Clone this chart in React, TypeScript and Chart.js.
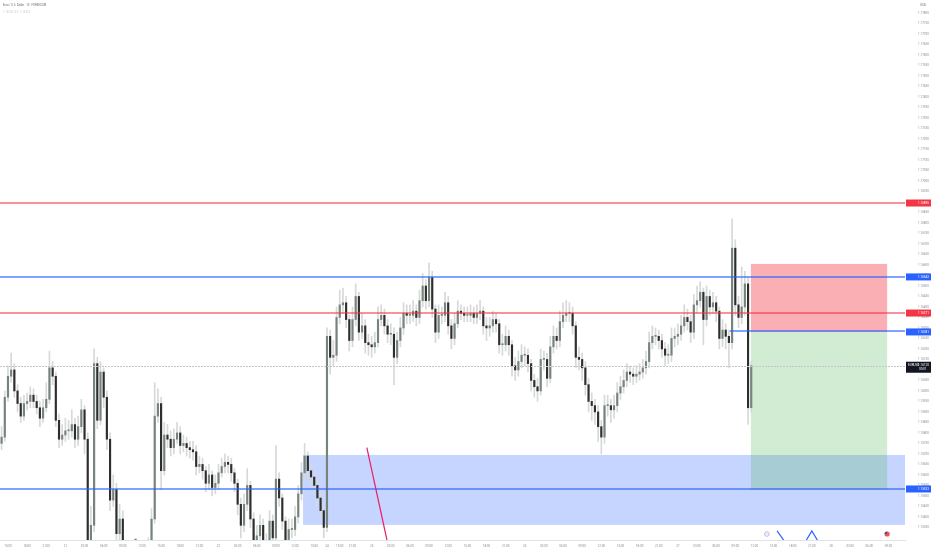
import React, { useEffect, useRef } from 'react';
import { Chart, registerables } from 'chart.js';

Chart.register(...registerables);

// EUR/USD, 30-minute candles (index 0 = 20th 14:00 NY time)
const FIRST_OPEN = 1.1575;

const closes = [
  1.1578, 1.1597, 1.1607, 1.1610, 1.1600, 1.1594, 1.1588, 1.1594, 1.1595, 1.1598,
  1.1595, 1.1592, 1.1587, 1.1592, 1.1596, 1.1611, 1.1607, 1.1586, 1.1577, 1.1579,
  1.1581, 1.1581, 1.1584, 1.1577, 1.1583, 1.1591, 1.1577, 1.1525, 1.1536, 1.1613,
  1.1586, 1.1609, 1.1597, 1.1577, 1.1548, 1.1553, 1.1532, 1.1539, 1.1527, 1.1522,
  1.1520, 1.1519, 1.1519, 1.1520, 1.1521, 1.1522, 1.1525, 1.1539, 1.1588, 1.1594,
  1.1562, 1.1579, 1.1577, 1.1573, 1.1577, 1.1580, 1.1574, 1.1575, 1.1573, 1.1572,
  1.1571, 1.1564, 1.1565, 1.1562, 1.1556, 1.1560, 1.1554, 1.1556, 1.1561, 1.1564,
  1.1566, 1.1565, 1.1561, 1.1556, 1.1546, 1.1536, 1.1546, 1.1555, 1.1539, 1.1529,
  1.1531, 1.1536, 1.1525, 1.1527, 1.1538, 1.1530, 1.1558, 1.1549, 1.1538, 1.1527,
  1.1534, 1.1534, 1.1540, 1.1551, 1.1561, 1.1569, 1.1562, 1.1559, 1.1555, 1.1549,
  1.1543, 1.1535, 1.1626, 1.1616, 1.1617, 1.1635, 1.1641, 1.1642, 1.1634, 1.1624,
  1.1634, 1.1645, 1.1628, 1.1631, 1.1623, 1.1622, 1.1621, 1.1623, 1.1634, 1.1636,
  1.1631, 1.1627, 1.1627, 1.1616, 1.1624, 1.1630, 1.1637, 1.1636, 1.1636, 1.1638,
  1.1635, 1.1643, 1.1650, 1.1643, 1.1654, 1.1639, 1.1628, 1.1636, 1.1636, 1.1642,
  1.1631, 1.1625, 1.1632, 1.1638, 1.1637, 1.1636, 1.1636, 1.1637, 1.1635, 1.1637,
  1.1638, 1.1631, 1.1630, 1.1631, 1.1634, 1.1632, 1.1622, 1.1622, 1.1626, 1.1622,
  1.1612, 1.1610, 1.1614, 1.1617, 1.1617, 1.1613, 1.1605, 1.1602, 1.1600, 1.1615,
  1.1615, 1.1606, 1.1621, 1.1626, 1.1624, 1.1633, 1.1636, 1.1637, 1.1637, 1.1631,
  1.1616, 1.1615, 1.1611, 1.1603, 1.1595, 1.1593, 1.1590, 1.1583, 1.1578, 1.1593,
  1.1593, 1.1591, 1.1593, 1.1599, 1.1602, 1.1605, 1.1609, 1.1608, 1.1607, 1.1608,
  1.1609, 1.1611, 1.1614, 1.1623, 1.1626, 1.1626, 1.1624, 1.1620, 1.1617, 1.1617,
  1.1625, 1.1626, 1.1627, 1.1631, 1.1635, 1.1633, 1.1628, 1.1641, 1.1643, 1.1647,
  1.1634, 1.1645, 1.1640, 1.1642, 1.1638, 1.1625, 1.1629, 1.1626, 1.1623, 1.1668,
  1.1641, 1.1635, 1.1640, 1.1651, 1.1592, 1.1612,
];

const highs = [
  1.1583, 1.1600, 1.1612, 1.1618, 1.1613, 1.1603, 1.1597, 1.1598, 1.1599, 1.1602,
  1.1601, 1.1598, 1.1595, 1.1596, 1.1604, 1.1619, 1.1614, 1.1609, 1.1589, 1.1584,
  1.1587, 1.1586, 1.1591, 1.1587, 1.1588, 1.1596, 1.1593, 1.1580, 1.1545, 1.1620,
  1.1616, 1.1614, 1.1611, 1.1600, 1.1580, 1.1560, 1.1556, 1.1546, 1.1543, 1.1529,
  1.1525, 1.1524, 1.1523, 1.1524, 1.1525, 1.1526, 1.1530, 1.1544, 1.1604, 1.1601,
  1.1597, 1.1585, 1.1584, 1.1581, 1.1582, 1.1585, 1.1583, 1.1579, 1.1578, 1.1576,
  1.1576, 1.1574, 1.1569, 1.1568, 1.1564, 1.1565, 1.1562, 1.1560, 1.1565, 1.1568,
  1.1570, 1.1569, 1.1568, 1.1563, 1.1558, 1.1549, 1.1551, 1.1563, 1.1557, 1.1542,
  1.1536, 1.1541, 1.1539, 1.1532, 1.1543, 1.1541, 1.1574, 1.1561, 1.1551, 1.1540,
  1.1539, 1.1539, 1.1545, 1.1555, 1.1566, 1.1575, 1.1571, 1.1565, 1.1562, 1.1558,
  1.1552, 1.1546, 1.1630, 1.1629, 1.1624, 1.1640, 1.1648, 1.1649, 1.1645, 1.1636,
  1.1640, 1.1651, 1.1647, 1.1637, 1.1634, 1.1627, 1.1626, 1.1628, 1.1640, 1.1641,
  1.1639, 1.1634, 1.1632, 1.1630, 1.1628, 1.1635, 1.1642, 1.1641, 1.1641, 1.1643,
  1.1641, 1.1648, 1.1656, 1.1653, 1.1661, 1.1657, 1.1641, 1.1641, 1.1640, 1.1647,
  1.1645, 1.1634, 1.1637, 1.1643, 1.1641, 1.1640, 1.1640, 1.1641, 1.1640, 1.1641,
  1.1643, 1.1640, 1.1635, 1.1635, 1.1638, 1.1637, 1.1634, 1.1627, 1.1631, 1.1629,
  1.1624, 1.1616, 1.1619, 1.1622, 1.1621, 1.1620, 1.1615, 1.1608, 1.1606, 1.1620,
  1.1619, 1.1618, 1.1626, 1.1631, 1.1630, 1.1638, 1.1642, 1.1643, 1.1642, 1.1640,
  1.1633, 1.1621, 1.1618, 1.1614, 1.1606, 1.1599, 1.1596, 1.1593, 1.1586, 1.1598,
  1.1598, 1.1596, 1.1598, 1.1604, 1.1607, 1.1610, 1.1613, 1.1612, 1.1611, 1.1612,
  1.1613, 1.1615, 1.1619, 1.1628, 1.1631, 1.1630, 1.1629, 1.1627, 1.1623, 1.1622,
  1.1630, 1.1630, 1.1632, 1.1636, 1.1641, 1.1639, 1.1636, 1.1646, 1.1650, 1.1652,
  1.1649, 1.1650, 1.1648, 1.1647, 1.1645, 1.1640, 1.1634, 1.1632, 1.1629, 1.1682,
  1.1672, 1.1645, 1.1659, 1.1657, 1.1654, 1.1614,
];

const lows = [
  1.1572, 1.1576, 1.1595, 1.1604, 1.1597, 1.1590, 1.1585, 1.1586, 1.1591, 1.1592,
  1.1592, 1.1589, 1.1583, 1.1585, 1.1590, 1.1594, 1.1603, 1.1583, 1.1573, 1.1574,
  1.1576, 1.1577, 1.1578, 1.1573, 1.1574, 1.1580, 1.1570, 1.1520, 1.1520, 1.1533,
  1.1582, 1.1584, 1.1592, 1.1572, 1.1543, 1.1545, 1.1527, 1.1528, 1.1520, 1.1518,
  1.1516, 1.1515, 1.1515, 1.1516, 1.1517, 1.1518, 1.1519, 1.1523, 1.1537, 1.1585,
  1.1553, 1.1560, 1.1573, 1.1569, 1.1570, 1.1575, 1.1570, 1.1571, 1.1569, 1.1568,
  1.1567, 1.1560, 1.1561, 1.1558, 1.1552, 1.1553, 1.1550, 1.1551, 1.1553, 1.1559,
  1.1561, 1.1561, 1.1557, 1.1552, 1.1541, 1.1530, 1.1533, 1.1543, 1.1535, 1.1524,
  1.1525, 1.1527, 1.1520, 1.1521, 1.1524, 1.1526, 1.1528, 1.1545, 1.1534, 1.1522,
  1.1523, 1.1530, 1.1531, 1.1537, 1.1548, 1.1558, 1.1558, 1.1555, 1.1551, 1.1545,
  1.1539, 1.1530, 1.1533, 1.1608, 1.1612, 1.1614, 1.1632, 1.1637, 1.1630, 1.1619,
  1.1621, 1.1631, 1.1624, 1.1625, 1.1618, 1.1617, 1.1616, 1.1618, 1.1621, 1.1631,
  1.1627, 1.1623, 1.1622, 1.1603, 1.1613, 1.1621, 1.1627, 1.1632, 1.1632, 1.1633,
  1.1631, 1.1632, 1.1640, 1.1639, 1.1640, 1.1635, 1.1623, 1.1625, 1.1632, 1.1633,
  1.1627, 1.1620, 1.1622, 1.1630, 1.1634, 1.1633, 1.1633, 1.1633, 1.1632, 1.1632,
  1.1634, 1.1627, 1.1624, 1.1626, 1.1628, 1.1628, 1.1618, 1.1617, 1.1619, 1.1617,
  1.1607, 1.1605, 1.1607, 1.1611, 1.1612, 1.1609, 1.1600, 1.1597, 1.1595, 1.1598,
  1.1610, 1.1602, 1.1604, 1.1618, 1.1620, 1.1621, 1.1630, 1.1633, 1.1633, 1.1627,
  1.1611, 1.1610, 1.1605, 1.1598, 1.1590, 1.1586, 1.1584, 1.1576, 1.1570, 1.1575,
  1.1588, 1.1585, 1.1587, 1.1590, 1.1596, 1.1599, 1.1602, 1.1604, 1.1603, 1.1604,
  1.1605, 1.1606, 1.1608, 1.1611, 1.1620, 1.1622, 1.1620, 1.1616, 1.1612, 1.1613,
  1.1614, 1.1621, 1.1622, 1.1624, 1.1628, 1.1629, 1.1623, 1.1625, 1.1637, 1.1640,
  1.1622, 1.1631, 1.1636, 1.1637, 1.1633, 1.1620, 1.1621, 1.1620, 1.1611, 1.1620,
  1.1636, 1.1630, 1.1632, 1.1636, 1.1584, 1.1590,
];

// time axis (candle index -> label)
const timeTickIdx = [
  2, 8, 14, 20, 26, 32, 38, 44, 50, 56, 62, 68, 74, 80, 86, 92, 98,
  102, 106, 110,
  116, 122, 128, 134, 140, 146, 152, 158,
  164, 170, 176, 182, 188, 194, 200, 206,
  212, 218, 224, 230, 236, 242, 248, 254,
  260, 266, 272, 278,
];
const timeTickLabels = [
  '15:00', '18:00', '21:00', '21', '03:00', '06:00', '09:00', '12:00', '15:00', '18:00', '21:00', '22', '03:00', '06:00', '09:00', '12:00', '15:00',
  '24', '19:00', '21:00',
  '25', '03:00', '06:00', '09:00', '12:00', '15:00', '18:00', '21:00',
  '26', '03:00', '06:00', '09:00', '12:00', '15:00', '18:00', '21:00',
  '27', '03:00', '06:00', '09:00', '12:00', '15:00', '18:00', '21:00',
  '28', '03:00', '06:00', '09:00',
];

// price scale
const PRICE_MIN = 1.1529;
const PRICE_MAX = 1.17862;
const PRICE_TICK_LOW = 1.1535;
const PRICE_TICK_HIGH = 1.178;
const PRICE_STEP = 0.0005;

// drawings
const redLevels = [1.16895, 1.16371];
const blueLevels = [1.16543, 1.15533];
const demandZone = [1.15362, 1.15695];
const ZONE_START = 94.5;
const ENTRY = 1.16281;
const STOP = 1.16605;
const TARGET = 1.15529;
const ENTRY_LINE_START = 228.3;
const BOX_START = 234.9;
const BOX_END = 277.6;
const pinkLine = [[114.5, 1.1573], [120.8, 1.1529]];
const blueStrokeA = [[243.1, 1.15333], [245.6, 1.1528]];
const blueStrokeB = [[251.9, 1.1528], [254.0, 1.15333], [256.1, 1.1528]];
const eventIdx = [239.9, 277.6];

const X_MIN = -0.5;
const X_MAX = 283.2;

const UP = '#77847b';
const DOWN = '#2e2e2e';
const WICK = '#d6d9d7';
const RED = '#f23645';
const BLUE = '#2962ff';
const RED_LINE = 'rgba(242,54,69,0.55)';
const BLUE_LINE = 'rgba(41,98,255,0.6)';

const overlay = {
  id: 'overlay',
  beforeDatasetsDraw(chart: any) {
    const { ctx, chartArea: a, scales } = chart;
    const x = scales.x;
    const y = scales.y;
    ctx.save();
    ctx.beginPath();
    ctx.rect(a.left, a.top, a.right - a.left, a.bottom - a.top);
    ctx.clip();
    // demand zone
    const zx = x.getPixelForValue(ZONE_START);
    const zTop = y.getPixelForValue(demandZone[1]);
    const zBot = y.getPixelForValue(demandZone[0]);
    ctx.fillStyle = 'rgba(41,98,255,0.27)';
    ctx.fillRect(zx, zTop, a.right - zx, zBot - zTop);
    // short position box
    const bx0 = x.getPixelForValue(BOX_START);
    const bx1 = x.getPixelForValue(BOX_END);
    const yStop = y.getPixelForValue(STOP);
    const yEntry = y.getPixelForValue(ENTRY);
    const yTarget = y.getPixelForValue(TARGET);
    ctx.fillStyle = 'rgba(242,54,69,0.4)';
    ctx.fillRect(bx0, yStop, bx1 - bx0, yEntry - yStop);
    ctx.fillStyle = 'rgba(76,175,80,0.25)';
    ctx.fillRect(bx0, yEntry, bx1 - bx0, yTarget - yEntry);
    ctx.restore();
  },
  afterDatasetsDraw(chart: any) {
    const { ctx, chartArea: a, scales } = chart;
    const x = scales.x;
    const y = scales.y;
    ctx.save();
    ctx.beginPath();
    ctx.rect(a.left, a.top, a.right - a.left, a.bottom - a.top);
    ctx.clip();
    // last price line (dotted)
    const ly = Math.round(y.getPixelForValue(closes[closes.length - 1]));
    ctx.fillStyle = '#c2c5cb';
    for (let px = a.left; px < a.right; px += 3) ctx.fillRect(px, ly, 2, 1);
    // horizontal levels, two device rows so the hue survives downsampling
    const hline = (p: number, color: string, from: number) => {
      const py = 2 * Math.floor(y.getPixelForValue(p) / 2);
      ctx.fillStyle = color;
      ctx.fillRect(from, py, a.right - from, 2);
    };
    redLevels.forEach((p) => hline(p, RED_LINE, a.left));
    blueLevels.forEach((p) => hline(p, BLUE_LINE, a.left));
    hline(ENTRY, BLUE_LINE, x.getPixelForValue(ENTRY_LINE_START));
    const poly = (pts: number[][], color: string) => {
      ctx.strokeStyle = color;
      ctx.lineWidth = 1.2;
      ctx.beginPath();
      pts.forEach(([i, p], k) => {
        const px = x.getPixelForValue(i);
        const py = y.getPixelForValue(p);
        if (k === 0) ctx.moveTo(px, py);
        else ctx.lineTo(px, py);
      });
      ctx.stroke();
    };
    poly(pinkLine, '#e91e63');
    poly(blueStrokeA, BLUE);
    poly(blueStrokeB, BLUE);
    // economic events
    const ey = a.bottom - 6;
    const e0 = x.getPixelForValue(eventIdx[0]);
    ctx.strokeStyle = '#b39ddb';
    ctx.lineWidth = 0.8;
    ctx.beginPath();
    ctx.arc(e0, ey, 2.3, 0, Math.PI * 2);
    ctx.stroke();
    ctx.fillStyle = '#f3e5f5';
    ctx.beginPath();
    ctx.arc(e0, ey, 1.4, 0, Math.PI * 2);
    ctx.fill();
    const e1 = x.getPixelForValue(eventIdx[1]);
    ctx.fillStyle = '#ef5350';
    ctx.beginPath();
    ctx.arc(e1, ey, 2.6, 0, Math.PI * 2);
    ctx.fill();
    ctx.fillStyle = '#3f51b5';
    ctx.beginPath();
    ctx.moveTo(e1, ey);
    ctx.arc(e1, ey, 2.6, Math.PI, Math.PI * 1.5);
    ctx.closePath();
    ctx.fill();
    ctx.restore();
  },
  afterDraw(chart: any) {
    const { ctx, chartArea: a, scales, width } = chart;
    const y = scales.y;
    ctx.save();
    ctx.textBaseline = 'middle';
    ctx.textAlign = 'left';
    ctx.font = '3px Roboto, sans-serif';
    const badge = (p: number, bg: string, text: string) => {
      const py = y.getPixelForValue(p);
      ctx.fillStyle = bg;
      ctx.fillRect(a.right + 1, py - 3.5, width - a.right - 2, 7);
      ctx.fillStyle = '#ffffff';
      ctx.fillText(text, a.right + 13, py);
    };
    redLevels.forEach((p) => badge(p, RED, p.toFixed(5)));
    blueLevels.forEach((p) => badge(p, BLUE, p.toFixed(5)));
    badge(ENTRY, BLUE, ENTRY.toFixed(5));
    // last price badge with countdown
    const last = closes[closes.length - 1];
    const ly = y.getPixelForValue(last);
    ctx.fillStyle = '#131722';
    ctx.fillRect(a.right + 1, ly - 4, width - a.right - 2, 11);
    ctx.fillStyle = '#ffffff';
    ctx.fillText('EURUSD', a.right + 3, ly - 0.5);
    ctx.fillText(last.toFixed(5), a.right + 13, ly - 0.5);
    ctx.fillText('00:01', a.right + 14, ly + 3.5);
    // header texts
    ctx.fillStyle = '#6a6d78';
    ctx.font = '2.8px Roboto, sans-serif';
    ctx.fillText('Euro / U.S. Dollar · 15 · FOREXCOM', 3, 5.5);
    ctx.fillStyle = '#c4c6cc';
    ctx.fillText('1.16120  0.3  1.16123', 3, 12);
    ctx.fillStyle = '#6a6d78';
    ctx.font = '3px Roboto, sans-serif';
    ctx.fillText('USD', a.right + 15, 5.5);
    ctx.restore();
  },
};

export default function App() {
  const canvasRef = useRef<HTMLCanvasElement>(null);
  const chartRef = useRef<Chart | null>(null);

  useEffect(() => {
    document.body.style.margin = '0';
    if (!canvasRef.current) return;
    if (chartRef.current) chartRef.current.destroy();

    const opens = closes.map((_, i) => (i === 0 ? FIRST_OPEN : closes[i - 1]));

    chartRef.current = new Chart(canvasRef.current, {
      type: 'bar',
      data: {
        datasets: [
          {
            label: 'wicks',
            data: closes.map((_, i) => ({ x: i, y: [lows[i], highs[i]] })) as any,
            backgroundColor: WICK,
            barThickness: 1,
            grouped: false,
            order: 2,
          },
          {
            label: 'bodies',
            data: closes.map((c, i) => ({ x: i, y: [opens[i], c] })) as any,
            backgroundColor: (ctx: any) => (closes[ctx.dataIndex] >= opens[ctx.dataIndex] ? UP : DOWN),
            barThickness: 1.5,
            minBarLength: 1,
            grouped: false,
            order: 1,
          },
        ],
      },
      options: {
        responsive: false,
        animation: false,
        layout: { padding: 0 },
        plugins: { legend: { display: false }, tooltip: { enabled: false }, title: { display: false } },
        scales: {
          x: {
            type: 'linear',
            min: X_MIN,
            max: X_MAX,
            offset: false,
            grid: { display: false, drawTicks: false },
            border: { display: true, color: '#e0e3eb' },
            afterBuildTicks: (scale: any) => {
              scale.ticks = timeTickIdx.map((v) => ({ value: v }));
            },
            afterFit: (scale: any) => {
              scale.height = 10;
              scale.paddingLeft = 0;
              scale.paddingRight = 0;
            },
            ticks: {
              autoSkip: false,
              maxRotation: 0,
              padding: 4,
              color: '#8a8d95',
              font: { size: 3, family: 'Roboto' },
              callback: (_v: any, i: number) => timeTickLabels[i],
            },
          },
          y: {
            type: 'linear',
            position: 'right',
            min: PRICE_MIN,
            max: PRICE_MAX,
            grid: { display: false, drawTicks: false },
            border: { display: false },
            afterBuildTicks: (scale: any) => {
              const t = [];
              for (let v = PRICE_TICK_LOW; v <= PRICE_TICK_HIGH + 1e-9; v += PRICE_STEP) t.push({ value: +v.toFixed(5) });
              scale.ticks = t;
            },
            afterFit: (scale: any) => {
              scale.width = 27;
              scale.paddingTop = 0;
              scale.paddingBottom = 0;
            },
            ticks: {
              padding: 13,
              color: '#8a8d95',
              font: { size: 3, family: 'Roboto' },
              callback: (v: any) => Number(v).toFixed(5),
            },
          },
        },
      },
      plugins: [overlay],
    } as any);

    return () => {
      if (chartRef.current) chartRef.current.destroy();
      chartRef.current = null;
    };
  }, []);

  return (
    <div style={{ width: 932, height: 550, background: '#ffffff' }}>
      <canvas ref={canvasRef} width={932} height={550} style={{ display: 'block' }} />
    </div>
  );
}
